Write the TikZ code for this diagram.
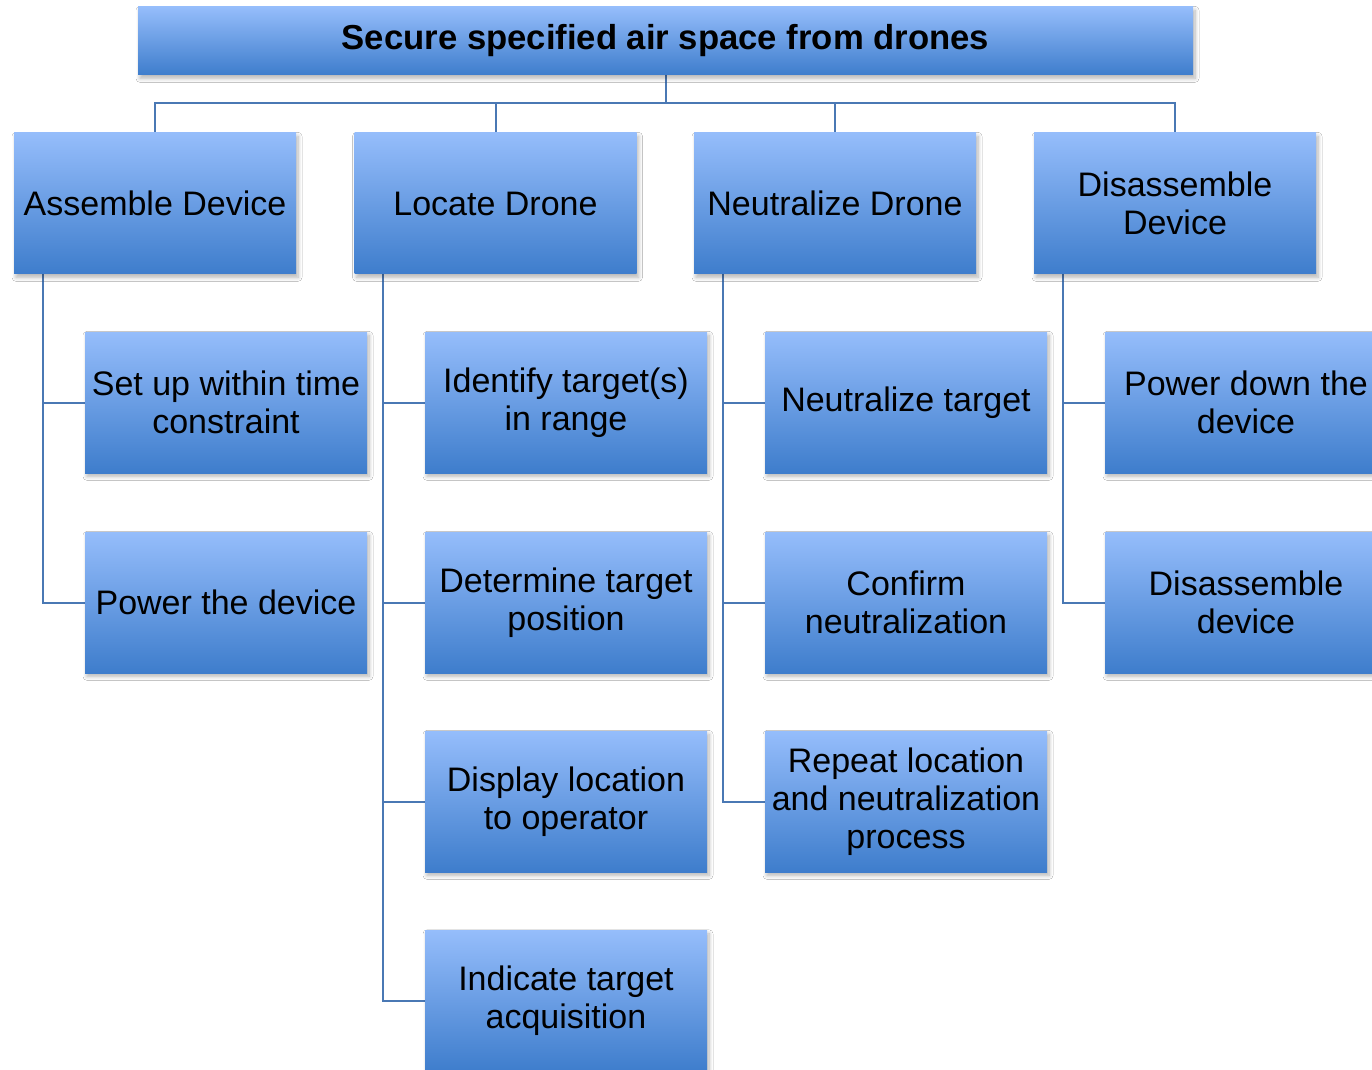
\documentclass[tikz,border=0pt]{standalone}
\usepackage{fontspec}
\setmainfont{Liberation Sans}
\usetikzlibrary{calc,shadows.blur}
\pgfdeclarelayer{background}
\pgfsetlayers{background,main}
\definecolor{boxtop}{HTML}{95BDFB}
\definecolor{boxbot}{HTML}{3E7DCC}
\definecolor{wire}{HTML}{4A78B4}
\tikzset{
  task/.style={rectangle, inner sep=0pt, align=center,
    minimum width=211.5pt, minimum height=105.75pt,
    top color=boxtop, bottom color=boxbot,
    font=\fontsize{25.5pt}{28.5pt}\selectfont,
    blur shadow={shadow xshift=1.5pt, shadow yshift=-2.5pt, shadow blur radius=3pt,
      shadow blur steps=8, shadow opacity=30}},
  goal/.style={task, minimum width=791.25pt, minimum height=51pt,
    font=\fontsize{26pt}{29pt}\selectfont\bfseries},
  wireline/.style={draw=wire, line width=1.5pt}
}
\begin{document}
\begin{tikzpicture}[x=0.75pt, y=-0.75pt]
\clip (0,0) rectangle (1372,1070);

% goal
\node[goal] (top) at (665.5,41) {Secure specified air space from drones};

% main functions
\node[task] (asm) at (155,203.5) {Assemble Device};
\node[task] (loc) at (495.5,203.5) {Locate Drone};
\node[task] (neu) at (835,203.5) {Neutralize Drone};
\node[task] (dis) at (1175,203.5) {Disassemble\\Device};

% sub-functions
\node[task] (asm1) at (226,402.5) {Set up within time\\constraint};
\node[task] (asm2) at (226,602.5) {Power the device};

\node[task] (loc1) at (566,402.5) {Identify target(s)\\in range};
\node[task] (loc2) at (566,602.5) {Determine target\\position};
\node[task] (loc3) at (566,801.5) {Display location\\to operator};
\node[task] (loc4) at (566,1001) {Indicate target\\acquisition};

\node[task] (neu1) at (906,402.5) {Neutralize target};
\node[task] (neu2) at (906,602.5) {Confirm\\neutralization};
\node[task] (neu3) at (906,801.5) {Repeat location\\and neutralization\\process};

\node[task] (dis1) at (1246,402.5) {Power down the\\device};
\node[task] (dis2) at (1246,602.5) {Disassemble\\device};

\begin{pgfonlayer}{background}
  \fill[white] (0,0) rectangle (1372,1070);
  % goal to main functions
  \foreach \n in {asm,loc,neu,dis}
    \draw[wireline] (top.south) -- ++(0,28) -| (\n.north);
  % main functions to sub-functions
  \foreach \p/\c in {asm/asm1,asm/asm2,loc/loc1,loc/loc2,loc/loc3,loc/loc4,
                     neu/neu1,neu/neu2,neu/neu3,dis/dis1,dis/dis2}
    \draw[wireline] ($(\p.south west)+(29,0)$) |- (\c.west);
\end{pgfonlayer}
\end{tikzpicture}
\end{document}
